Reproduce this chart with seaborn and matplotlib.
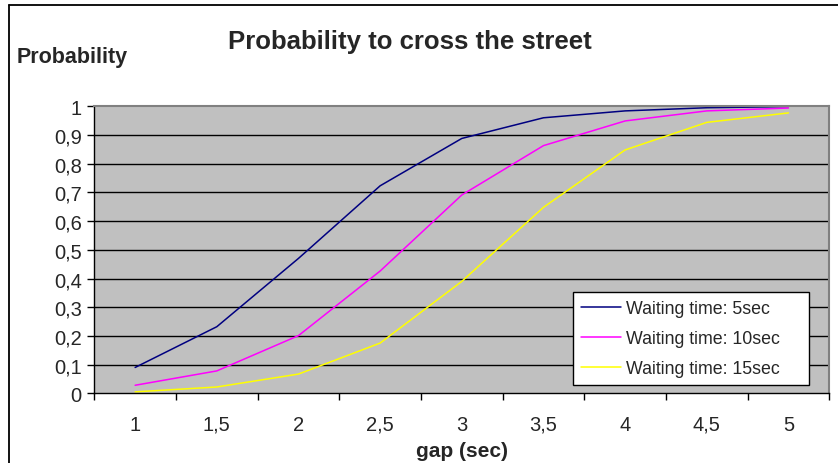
import pandas as pd
import matplotlib.pyplot as plt
import seaborn as sns
from matplotlib.lines import Line2D

# values
gap = [1, 1.5, 2, 2.5, 3, 3.5, 4, 4.5, 5]
wait_5 = [0.09, 0.232, 0.470, 0.723, 0.888, 0.960, 0.984, 0.995, 0.999]
wait_10 = [0.028, 0.078, 0.201, 0.426, 0.691, 0.863, 0.949, 0.984, 0.994]
wait_15 = [0.005, 0.022, 0.067, 0.175, 0.390, 0.648, 0.848, 0.944, 0.977]
series_names = ["Waiting time: 5sec", "Waiting time: 10sec", "Waiting time: 15sec"]
series_colors = ["#000080", "#FF00FF", "#FFFF00"]
x_labels = ["1", "1,5", "2", "2,5", "3", "3,5", "4", "4,5", "5"]
y_ticks = [0, 0.1, 0.2, 0.3, 0.4, 0.5, 0.6, 0.7, 0.8, 0.9, 1.0]
y_labels = ["0", "0,1", "0,2", "0,3", "0,4", "0,5", "0,6", "0,7", "0,8", "0,9", "1"]

df = pd.concat([
    pd.DataFrame({"gap": gap, "prob": vals, "series": name})
    for name, vals in zip(series_names, [wait_5, wait_10, wait_15])
])

sns.set_theme(style="white")
plt.rcParams["font.family"] = ["Liberation Sans", "DejaVu Sans"]

W, H = 838, 464
fig = plt.figure(figsize=(W / 100, H / 100), dpi=100)
ax = fig.add_axes([94.3 / W, 1 - 394.3 / H, (829.3 - 94.3) / W, (394.3 - 107.3) / H])
ax.set_facecolor("#C0C0C0")

sns.lineplot(data=df, x="gap", y="prob", hue="series", palette=series_colors,
             linewidth=1.1, ax=ax, legend=True)

ax.set_xlim(0.75, 5.25)
ax.set_ylim(0, 1)

# category axis: ticks on boundaries, labels centred in between
ax.set_xticks([0.75 + 0.5 * k for k in range(10)])
ax.set_xticklabels([])
ax.set_xticks(gap, minor=True)
ax.set_xticklabels(x_labels, minor=True)
ax.tick_params(axis="x", which="major", direction="out", length=5, width=1,
               color="black", bottom=True)
ax.tick_params(axis="x", which="minor", length=0, labelsize=14.5, pad=15.5)

ax.set_yticks(y_ticks)
ax.set_yticklabels(y_labels)
ax.tick_params(axis="y", direction="out", length=5, width=1, color="black",
               left=True, labelsize=14.5, pad=4)

for v in y_ticks[1:-1]:
    ax.axhline(v, color="black", linewidth=1, zorder=1)

for side in ["left", "bottom"]:
    ax.spines[side].set_color("black")
    ax.spines[side].set_linewidth(1)
for side in ["top", "right"]:
    ax.spines[side].set_color("#808080")
    ax.spines[side].set_linewidth(1.5)

ax.set_xlabel("gap (sec)", fontsize=15, fontweight="bold", labelpad=5)
ax.set_ylabel("")

# legend box stretched to the width seen in the reference
leg = ax.legend(loc="lower left", bbox_to_anchor=(0.651, 0.029, 0.321, 0.3),
                mode="expand", frameon=True, fancybox=False, edgecolor="black",
                framealpha=1, fontsize=12.8, handlelength=2.25,
                handletextpad=0.3, labelspacing=0.72, borderpad=0.45,
                borderaxespad=0)
leg.get_frame().set_linewidth(1)

fig.text(410 / W, 1 - 42 / H, "Probability to cross the street", ha="center",
         va="center", fontsize=18.5, fontweight="bold")
fig.text(17 / W, 1 - 57 / H, "Probability", ha="left", va="center",
         fontsize=15.5, fontweight="bold")

# chart border (top and left only, as in the reference)
fig.add_artist(Line2D([9 / W, 1], [1 - 5.5 / H, 1 - 5.5 / H], color="black",
                      linewidth=1.3, transform=fig.transFigure))
fig.add_artist(Line2D([9 / W, 9 / W], [1 - 5.5 / H, 0], color="black",
                      linewidth=1.3, transform=fig.transFigure))

fig.savefig("out.png", dpi=100, facecolor="white")
